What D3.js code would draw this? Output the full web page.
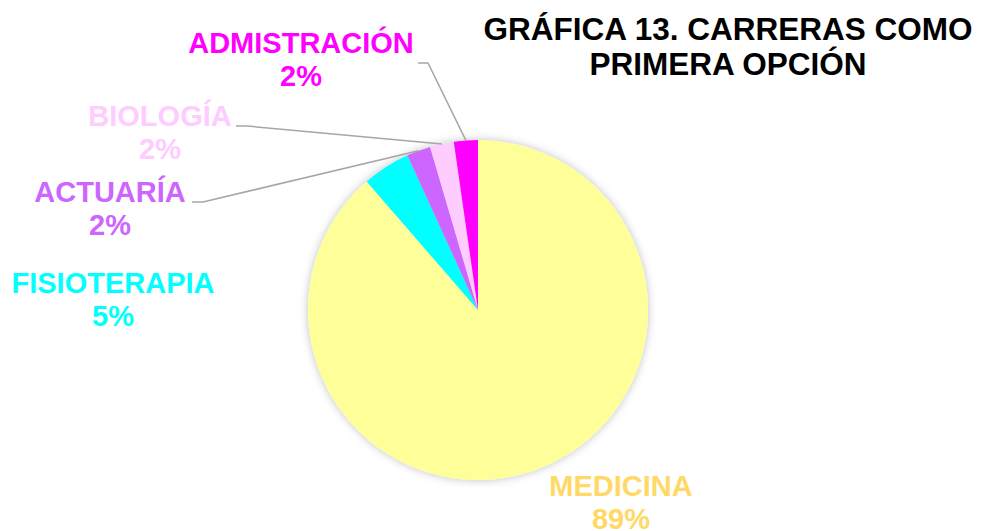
<!DOCTYPE html>
<html>
<head>
<meta charset="utf-8">
<script src="https://cdn.jsdelivr.net/npm/d3@7"></script>
<style>
  body { margin: 0; background: #fff; }
  svg text { font-family: "Liberation Sans", Arial, sans-serif; font-weight: bold; }
</style>
</head>
<body>
<svg id="chart" width="981" height="531"></svg>
<script>
// carreras, clockwise from the top
var careers = ['MEDICINA', 'FISIOTERAPIA', 'ACTUARÍA', 'BIOLOGÍA', 'ADMISTRACIÓN'];
var counts = [39, 2, 1, 1, 1];
var sliceColors = ['#FFFF99', '#00FFFF', '#CC66FF', '#FFCCFF', '#FF00FF'];
var labelColors = ['#FFD966', '#00FFFF', '#CC66FF', '#FFCCFF', '#FF00FF'];
var titleLines = ['GRÁFICA 13. CARRERAS COMO', 'PRIMERA OPCIÓN'];

// label anchor spots (centre of text block) and leader elbows
var labelPos = [[621, 496], [113, 293], [110, 202], [160, 126], [301, 53]];
var leaders = [null, null, [[192, 202], [203, 202]], [[236, 126], [247, 126]], [[418, 63], [428, 63]]];

var svg = d3.select('#chart');
var cx = 478, cy = 310, r = 170;
var total = d3.sum(counts);
var pct = d3.format('.0%');

var defs = svg.append('defs');
var shadow = defs.append('filter').attr('id', 'shadow')
  .attr('x', '-20%').attr('y', '-20%').attr('width', '140%').attr('height', '140%');
shadow.append('feDropShadow')
  .attr('dx', 0).attr('dy', 0).attr('stdDeviation', 4)
  .attr('flood-color', '#000').attr('flood-opacity', 0.25);

var pie = d3.pie().sort(null).value(function(d) { return d; });
var arcs = pie(counts);
var arc = d3.arc().innerRadius(0).outerRadius(r);

var g = svg.append('g').attr('transform', 'translate(' + cx + ',' + cy + ')');

g.append('g').attr('filter', 'url(#shadow)')
  .selectAll('path').data(arcs).enter().append('path')
  .attr('d', arc)
  .attr('fill', function(d, i) { return sliceColors[i]; });

// leader lines: from label elbow to the slice edge midpoint
arcs.forEach(function(d, i) {
  if (!leaders[i]) return;
  var mid = (d.startAngle + d.endAngle) / 2;
  var ex = cx + Math.sin(mid) * r, ey = cy - Math.cos(mid) * r;
  var pts = leaders[i].concat([[ex, ey]]);
  svg.append('path')
    .attr('d', d3.line()(pts))
    .attr('fill', 'none')
    .attr('stroke', '#A6A6A6')
    .attr('stroke-width', 1.5);
});

// labels
arcs.forEach(function(d, i) {
  var t = svg.append('text')
    .attr('text-anchor', 'middle')
    .attr('fill', labelColors[i])
    .attr('font-size', 29);
  t.append('tspan').attr('x', labelPos[i][0]).attr('y', labelPos[i][1]).text(careers[i]);
  t.append('tspan').attr('x', labelPos[i][0]).attr('y', labelPos[i][1] + 33).text(pct(d.data / total));
});

// title
var title = svg.append('text')
  .attr('text-anchor', 'middle')
  .attr('fill', '#000')
  .attr('font-size', 31.5);
titleLines.forEach(function(line, i) {
  title.append('tspan').attr('x', 728).attr('y', 40 + i * 35).text(line);
});
</script>
</body>
</html>
